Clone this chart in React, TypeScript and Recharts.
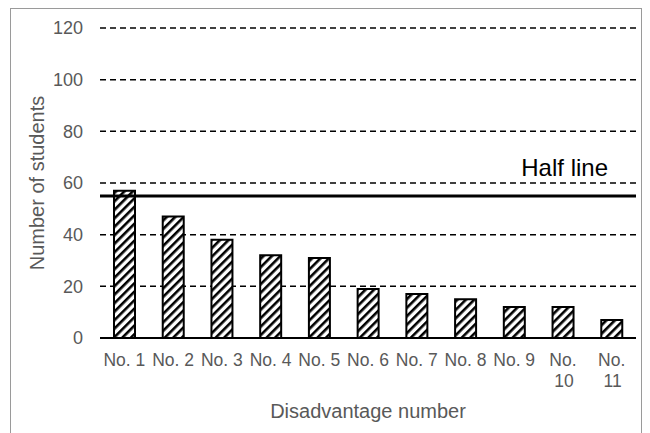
import React from 'react';
import { BarChart, Bar, XAxis, YAxis, CartesianGrid, ReferenceLine } from 'recharts';

const categories = ['No. 1', 'No. 2', 'No. 3', 'No. 4', 'No. 5', 'No. 6', 'No. 7', 'No. 8', 'No. 9', 'No. 10', 'No. 11'];
const students = [57, 47, 38, 32, 31, 19, 17, 15, 12, 12, 7];
const yTicks = [0, 20, 40, 60, 80, 100, 120];
const halfLineValue = 55;
const halfLineLabel = 'Half line';
const xTitle = 'Disadvantage number';
const yTitle = 'Number of students';

const data = categories.map((c, i) => ({ name: c, value: students[i] }));

const FONT = '"Liberation Sans", Arial, sans-serif';
const GRAY = '#595959';

const XTick = (props: any) => {
  const { x, y, payload } = props;
  const label: string = payload.value;
  const lines = label.length > 5 ? label.split(' ') : [label];
  return (
    <text x={x} y={y} textAnchor="middle" fill={GRAY} fontSize={17.5} fontFamily={FONT}>
      {lines.map((l, i) => (
        <tspan key={i} x={x + (lines.length > 1 && i === 1 ? 1 : 0)} dy={i === 0 ? 20 : 21}>
          {l}
        </tspan>
      ))}
    </text>
  );
};

const HalfLabel = (props: any) => {
  const { viewBox } = props;
  return (
    <text
      x={viewBox.x + viewBox.width - 28}
      y={viewBox.y - 20}
      textAnchor="end"
      fill="#000"
      fontSize={24}
      fontFamily={FONT}
    >
      {halfLineLabel}
    </text>
  );
};

export default function App() {
  return (
    <div style={{ position: 'absolute', left: 0, top: 0, width: 650, height: 433, background: '#fff', overflow: 'hidden' }}>
      <div
        style={{
          position: 'absolute',
          left: 10,
          top: 8,
          width: 632,
          height: 440,
          border: '1.5px solid #9a9a9a',
          boxSizing: 'border-box',
        }}
      />
      <div style={{ position: 'absolute', left: 0, top: 0 }}>
        <BarChart
          width={650}
          height={433}
          data={data}
          margin={{ top: 28, right: 14, bottom: 35, left: 40 }}
          barCategoryGap="0%"
        >
          <defs>
            <pattern id="hatch" patternUnits="userSpaceOnUse" width="6" height="6" patternTransform="rotate(45)">
              <rect x="0" y="0" width="6" height="6" fill="#fff" />
              <rect x="0" y="0" width="2.6" height="6" fill="#000" />
            </pattern>
          </defs>
          <CartesianGrid
            vertical={false}
            stroke="#000"
            strokeDasharray="6 4"
            strokeWidth={1.5}
            horizontalValues={[20, 40, 60, 80, 100, 120]}
          />
          <XAxis
            dataKey="name"
            axisLine={{ stroke: '#000', strokeWidth: 2 }}
            tickLine={false}
            height={60}
            interval={0}
            tick={<XTick />}
            label={{
              value: xTitle,
              position: 'insideBottom',
              offset: -20,
              fill: GRAY,
              fontSize: 20,
              fontFamily: FONT,
            }}
          />
          <YAxis
            domain={[0, 120]}
            ticks={yTicks}
            width={60}
            axisLine={false}
            tickLine={false}
            tickMargin={11}
            tick={{ fill: GRAY, fontSize: 18, fontFamily: FONT }}
            label={{
              value: yTitle,
              angle: -90,
              position: 'insideLeft',
              offset: 0,
              dx: -3,
              style: { textAnchor: 'middle' },
              fill: GRAY,
              fontSize: 20,
              fontFamily: FONT,
            }}
          />
          <Bar
            dataKey="value"
            barSize={21}
            fill="url(#hatch)"
            stroke="#000"
            strokeWidth={2}
            isAnimationActive={false}
          />
          <ReferenceLine
            y={halfLineValue}
            stroke="#000"
            strokeWidth={3}
            label={<HalfLabel />}
          />
        </BarChart>
      </div>
    </div>
  );
}
